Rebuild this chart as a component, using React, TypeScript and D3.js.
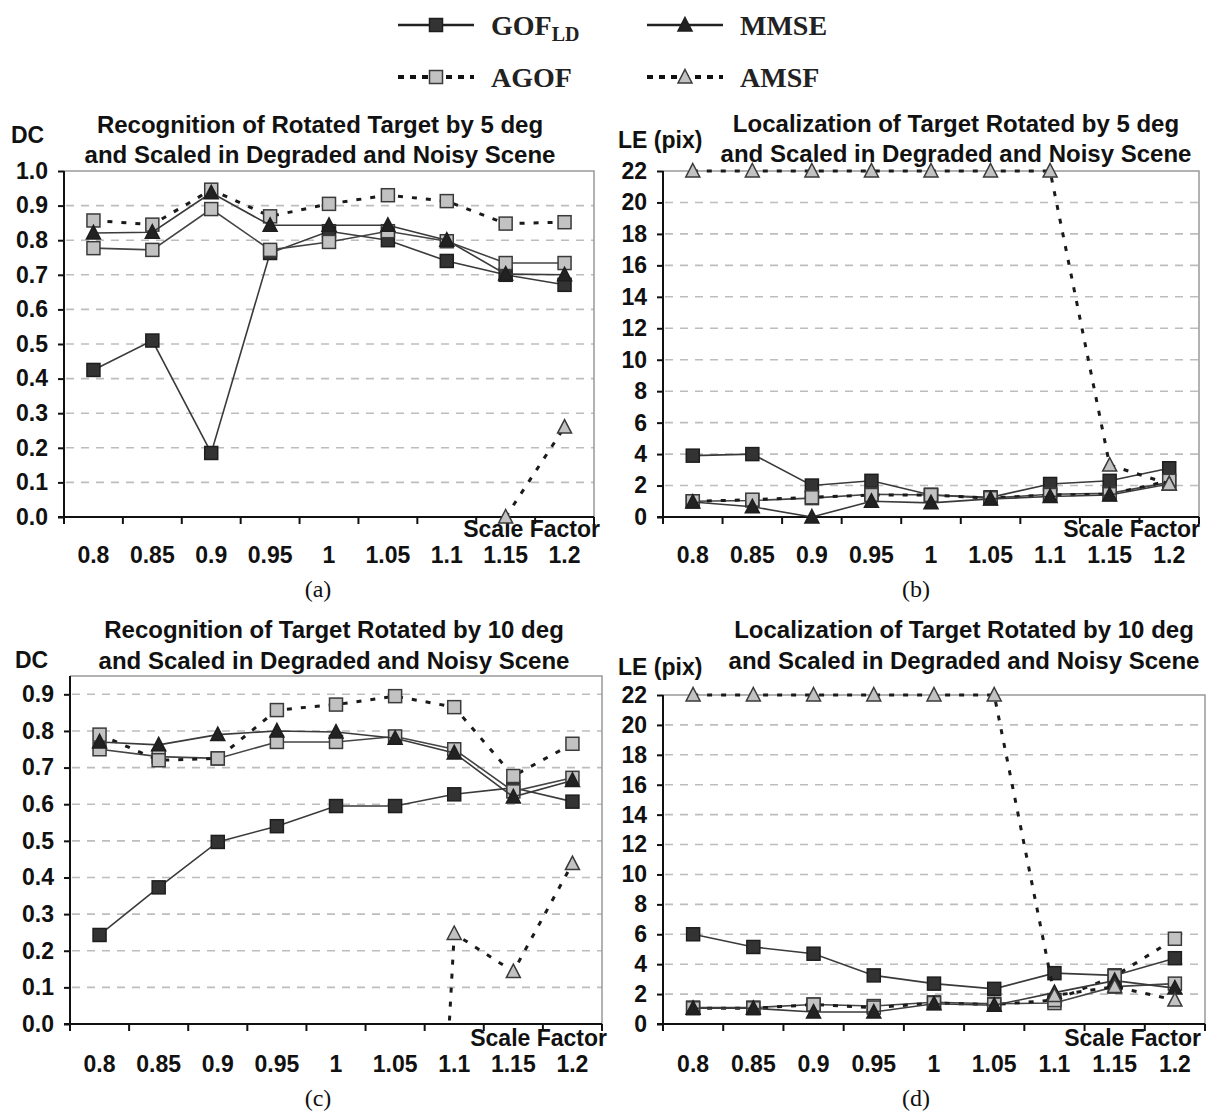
import React, { useRef, useEffect } from "react";
import * as d3 from "d3";

const scaleFactors = ["0.8", "0.85", "0.9", "0.95", "1", "1.05", "1.1", "1.15", "1.2"];

const dcTicksTop = [0, 0.1, 0.2, 0.3, 0.4, 0.5, 0.6, 0.7, 0.8, 0.9, 1.0];
const dcTicksBottom = [0, 0.1, 0.2, 0.3, 0.4, 0.5, 0.6, 0.7, 0.8, 0.9];
const leTicks = [0, 2, 4, 6, 8, 10, 12, 14, 16, 18, 20, 22];

// (a) recognition, 5 deg
const gofLdA = [0.425, 0.51, 0.185, 0.763, 0.826, 0.8, 0.74, 0.7, 0.671];
const mmseA = [0.821, 0.823, 0.937, 0.843, 0.843, 0.843, 0.8, 0.702, 0.7];
const agofA = [0.857, 0.845, 0.946, 0.869, 0.905, 0.93, 0.913, 0.848, 0.852];
const gofA = [0.777, 0.772, 0.89, 0.772, 0.795, 0.826, 0.797, 0.734, 0.734];
const amsfA = [null, null, null, null, null, null, null, 0.0, 0.26];

// (b) localization, 5 deg
const gofLdB = [3.9, 4.0, 2.0, 2.3, 1.4, 1.25, 2.1, 2.3, 3.1];
const mmseB = [0.95, 0.65, 0.0, 1.0, 0.9, 1.15, 1.3, 1.4, 2.1];
const agofB = [1.0, 1.1, 1.25, 1.4, 1.4, 1.2, 1.4, 1.45, 2.3];
const gofB = [1.0, 1.05, 1.2, 1.45, 1.4, 1.2, 1.45, 1.5, 2.2];
const amsfB = [22, 22, 22, 22, 22, 22, 22, 3.3, 2.1];

// (c) recognition, 10 deg
const gofLdC = [0.243, 0.373, 0.497, 0.54, 0.595, 0.595, 0.627, 0.645, 0.607];
const mmseC = [0.77, 0.762, 0.79, 0.8, 0.797, 0.78, 0.74, 0.62, 0.665];
const agofC = [0.79, 0.72, 0.725, 0.857, 0.872, 0.895, 0.865, 0.677, 0.765];
const gofC = [0.75, 0.73, 0.725, 0.77, 0.77, 0.785, 0.75, 0.635, 0.672];
const amsfC = [null, null, null, null, null, -2.7, 0.247, 0.143, 0.438];

// (d) localization, 10 deg
const gofLdD = [6.0, 5.15, 4.7, 3.25, 2.7, 2.35, 3.4, 3.25, 4.4];
const mmseD = [1.05, 1.05, 0.8, 0.8, 1.35, 1.25, 2.1, 2.9, 2.4];
const agofD = [1.05, 1.05, 1.3, 1.1, 1.4, 1.3, 1.6, 3.2, 5.7];
const gofD = [1.1, 1.1, 1.3, 1.2, 1.45, 1.35, 1.4, 2.5, 2.7];
const amsfD = [22, 22, 22, 22, 22, 22, 1.9, 2.5, 1.6];

const SANS = "'Liberation Sans', Arial, sans-serif";
const SERIF = "'Liberation Serif', 'Times New Roman', serif";

const triPath = "M0,-7.5L7,6L-7,6Z";

const styles = {
  gofLd: { color: "#3a3a3a", width: 1.6, dash: null, marker: "square", fill: "#333", stroke: "#1e1e1e" },
  gof: { color: "#444", width: 1.6, dash: null, marker: "square", fill: "#c2c2c2", stroke: "#3a3a3a" },
  agof: { color: "#1a1a1a", width: 3, dash: "5,9", marker: "square", fill: "#c2c2c2", stroke: "#3a3a3a" },
  mmse: { color: "#3a3a3a", width: 1.6, dash: null, marker: "tri", fill: "#222", stroke: "#1e1e1e" },
  amsf: { color: "#1a1a1a", width: 3, dash: "5,9", marker: "tri", fill: "#c2c2c2", stroke: "#3a3a3a" },
};

const panels = [
  {
    id: "a", left: 64, right: 594, top: 171, bottom: 517, domain: [0, 1], ticks: dcTicksTop, fmt: ".1f",
    yLabel: "DC", yLabelX: 11, yLabelY: 135,
    title: ["Recognition of Rotated Target by 5 deg", "and Scaled in Degraded and Noisy Scene"],
    titleX: 320, titleY: [124, 154], xLabY: 555, sfY: 529, sfX: 600, cap: "(a)", capX: 318, capY: 589,
    series: { gofLd: gofLdA, gof: gofA, agof: agofA, mmse: mmseA, amsf: amsfA },
  },
  {
    id: "b", left: 663, right: 1199, top: 171, bottom: 517, domain: [0, 22], ticks: leTicks, fmt: "d",
    yLabel: "LE (pix)", yLabelX: 618, yLabelY: 140,
    title: ["Localization of Target Rotated by 5 deg", "and Scaled in Degraded and Noisy Scene"],
    titleX: 956, titleY: [123, 153], xLabY: 555, sfY: 529, sfX: 1200, cap: "(b)", capX: 916, capY: 589,
    series: { gofLd: gofLdB, gof: gofB, agof: agofB, mmse: mmseB, amsf: amsfB },
  },
  {
    id: "c", left: 70, right: 602, top: 676, bottom: 1024, domain: [0, 0.95], ticks: dcTicksBottom, fmt: ".1f",
    yLabel: "DC", yLabelX: 15, yLabelY: 660,
    title: ["Recognition of Target Rotated by 10 deg", "and Scaled in Degraded and Noisy Scene"],
    titleX: 334, titleY: [629, 660], xLabY: 1064, sfY: 1038, sfX: 607, cap: "(c)", capX: 318, capY: 1098,
    series: { gofLd: gofLdC, gof: gofC, agof: agofC, mmse: mmseC, amsf: amsfC },
  },
  {
    id: "d", left: 663, right: 1205, top: 695, bottom: 1024, domain: [0, 22], ticks: leTicks, fmt: "d",
    yLabel: "LE (pix)", yLabelX: 618, yLabelY: 667,
    title: ["Localization of Target Rotated by 10 deg", "and Scaled in Degraded and Noisy Scene"],
    titleX: 964, titleY: [629, 660], xLabY: 1064, sfY: 1038, sfX: 1201, cap: "(d)", capX: 916, capY: 1098,
    series: { gofLd: gofLdD, gof: gofD, agof: agofD, mmse: mmseD, amsf: amsfD },
  },
];

const drawOrder = ["gofLd", "gof", "agof", "mmse", "amsf"];

function drawMarker(g, kind, cx, cy, st) {
  if (kind === "square") {
    g.append("rect")
      .attr("x", cx - 6.5).attr("y", cy - 6.5)
      .attr("width", 13).attr("height", 13)
      .attr("fill", st.fill).attr("stroke", st.stroke).attr("stroke-width", 1.5);
  } else {
    g.append("path")
      .attr("d", triPath)
      .attr("transform", `translate(${cx},${cy})`)
      .attr("fill", st.fill).attr("stroke", st.stroke).attr("stroke-width", 1.5);
  }
}

function drawPanel(svg, p) {
  const g = svg.append("g");
  const x = d3.scaleBand().domain(scaleFactors).range([p.left, p.right]);
  const y = d3.scaleLinear().domain(p.domain).range([p.bottom, p.top]);
  const cx = (d) => x(d) + x.bandwidth() / 2;

  // grid
  g.selectAll(".grid")
    .data(p.ticks.filter((t) => t > 0 && t < p.domain[1]))
    .enter()
    .append("line")
    .attr("x1", p.left + 2).attr("x2", p.right)
    .attr("y1", (d) => y(d)).attr("y2", (d) => y(d))
    .attr("stroke", "#bdbdbd").attr("stroke-width", 1.6)
    .attr("stroke-dasharray", "8,7");

  // top / right border
  g.append("path")
    .attr("d", `M${p.left},${p.top}H${p.right}V${p.bottom}`)
    .attr("fill", "none").attr("stroke", "#999").attr("stroke-width", 1.5);

  // y axis
  const yAxis = g.append("g")
    .attr("transform", `translate(${p.left},0)`)
    .call(d3.axisLeft(y).tickValues(p.ticks).tickSize(6).tickPadding(10).tickFormat(d3.format(p.fmt)));
  yAxis.select(".domain").attr("stroke", "#111").attr("stroke-width", 2)
    .attr("d", `M0,${p.bottom}V${p.top}`);
  yAxis.selectAll(".tick line").attr("stroke", "#111").attr("stroke-width", 2);
  yAxis.selectAll("text")
    .attr("font-family", SANS).attr("font-size", 23).attr("font-weight", "bold").attr("fill", "#111");

  // x axis
  g.append("line")
    .attr("x1", p.left - 6).attr("x2", p.right)
    .attr("y1", p.bottom).attr("y2", p.bottom)
    .attr("stroke", "#111").attr("stroke-width", 2);
  const bounds = scaleFactors.map((d) => x(d)).concat([p.right]);
  g.selectAll(".xtick")
    .data(bounds)
    .enter()
    .append("line")
    .attr("x1", (d) => d).attr("x2", (d) => d)
    .attr("y1", p.bottom).attr("y2", p.bottom + 7)
    .attr("stroke", "#111").attr("stroke-width", 2);
  g.selectAll(".xlab")
    .data(scaleFactors)
    .enter()
    .append("text")
    .attr("x", (d) => cx(d)).attr("y", p.xLabY)
    .attr("text-anchor", "middle").attr("dominant-baseline", "central")
    .attr("font-family", SANS).attr("font-size", 23).attr("font-weight", "bold").attr("fill", "#111")
    .text((d) => d);

  g.append("text")
    .attr("x", p.sfX).attr("y", p.sfY)
    .attr("text-anchor", "end").attr("dominant-baseline", "central")
    .attr("font-family", SANS).attr("font-size", 23).attr("font-weight", "bold").attr("fill", "#111")
    .text("Scale Factor");

  // titles
  p.title.forEach((t, i) => {
    g.append("text")
      .attr("x", p.titleX).attr("y", p.titleY[i])
      .attr("text-anchor", "middle").attr("dominant-baseline", "central")
      .attr("font-family", SANS).attr("font-size", 24).attr("font-weight", "bold").attr("fill", "#111")
      .text(t);
  });
  g.append("text")
    .attr("x", p.yLabelX).attr("y", p.yLabelY)
    .attr("dominant-baseline", "central")
    .attr("font-family", SANS).attr("font-size", 23).attr("font-weight", "bold").attr("fill", "#111")
    .text(p.yLabel);

  g.append("text")
    .attr("x", p.capX).attr("y", p.capY)
    .attr("text-anchor", "middle").attr("dominant-baseline", "central")
    .attr("font-family", SERIF).attr("font-size", 24).attr("fill", "#111")
    .text(p.cap);

  // series
  const clipId = "clip-" + p.id;
  svg.append("clipPath").attr("id", clipId)
    .append("rect")
    .attr("x", p.left).attr("y", p.top - 12)
    .attr("width", p.right - p.left).attr("height", p.bottom - p.top + 12);

  drawOrder.forEach((key) => {
    const st = styles[key];
    const vals = p.series[key];
    const pts = scaleFactors.map((d, i) => ({ d, v: vals[i] }));
    const line = d3.line()
      .defined((e) => e.v !== null)
      .x((e) => cx(e.d))
      .y((e) => y(e.v));
    const sg = g.append("g");
    sg.append("path")
      .attr("d", line(pts))
      .attr("clip-path", `url(#${clipId})`)
      .attr("fill", "none")
      .attr("stroke", st.color)
      .attr("stroke-width", st.width)
      .attr("stroke-dasharray", st.dash);
    pts
      .filter((e) => e.v !== null && e.v >= p.domain[0] && e.v <= p.domain[1])
      .forEach((e) => drawMarker(sg, st.marker, cx(e.d), y(e.v), st));
  });
}

const legendItems = [
  { key: "gofLd", label: "GOF", sub: "LD", row: 0, col: 0 },
  { key: "mmse", label: "MMSE", sub: null, row: 0, col: 1 },
  { key: "agof", label: "AGOF", sub: null, row: 1, col: 0 },
  { key: "amsf", label: "AMSF", sub: null, row: 1, col: 1 },
];

function drawLegend(svg) {
  const g = svg.append("g");
  const rowY = [25, 77];
  const colX = [398, 647];
  legendItems.forEach((it) => {
    const st = styles[it.key];
    const x0 = colX[it.col];
    const yy = rowY[it.row];
    g.append("line")
      .attr("x1", x0).attr("x2", x0 + 76)
      .attr("y1", yy).attr("y2", yy)
      .attr("stroke", st.dash ? "#111" : "#222")
      .attr("stroke-width", st.dash ? 4 : 2.5)
      .attr("stroke-dasharray", st.dash ? "6,6" : null);
    drawMarker(g, st.marker, x0 + 38, yy, st);
    const t = g.append("text")
      .attr("x", x0 + 93).attr("y", yy)
      .attr("dominant-baseline", "central")
      .attr("font-family", SERIF).attr("font-size", 28).attr("font-weight", "bold").attr("fill", "#222")
      .text(it.label);
    if (it.sub) {
      t.append("tspan").attr("font-size", 20).attr("dy", 9).text(it.sub);
    }
  });
}

const App = () => {
  const svgRef = useRef(null);

  useEffect(() => {
    const svg = d3.select(svgRef.current);
    svg.selectAll("*").remove();
    drawLegend(svg);
    panels.forEach((p) => drawPanel(svg, p));
    return () => {
      svg.selectAll("*").remove();
    };
  }, []);

  return (
    <svg
      ref={svgRef}
      width={1215}
      height={1113}
      style={{ position: "absolute", left: 0, top: 0, background: "#fff" }}
    />
  );
};

export default App;
